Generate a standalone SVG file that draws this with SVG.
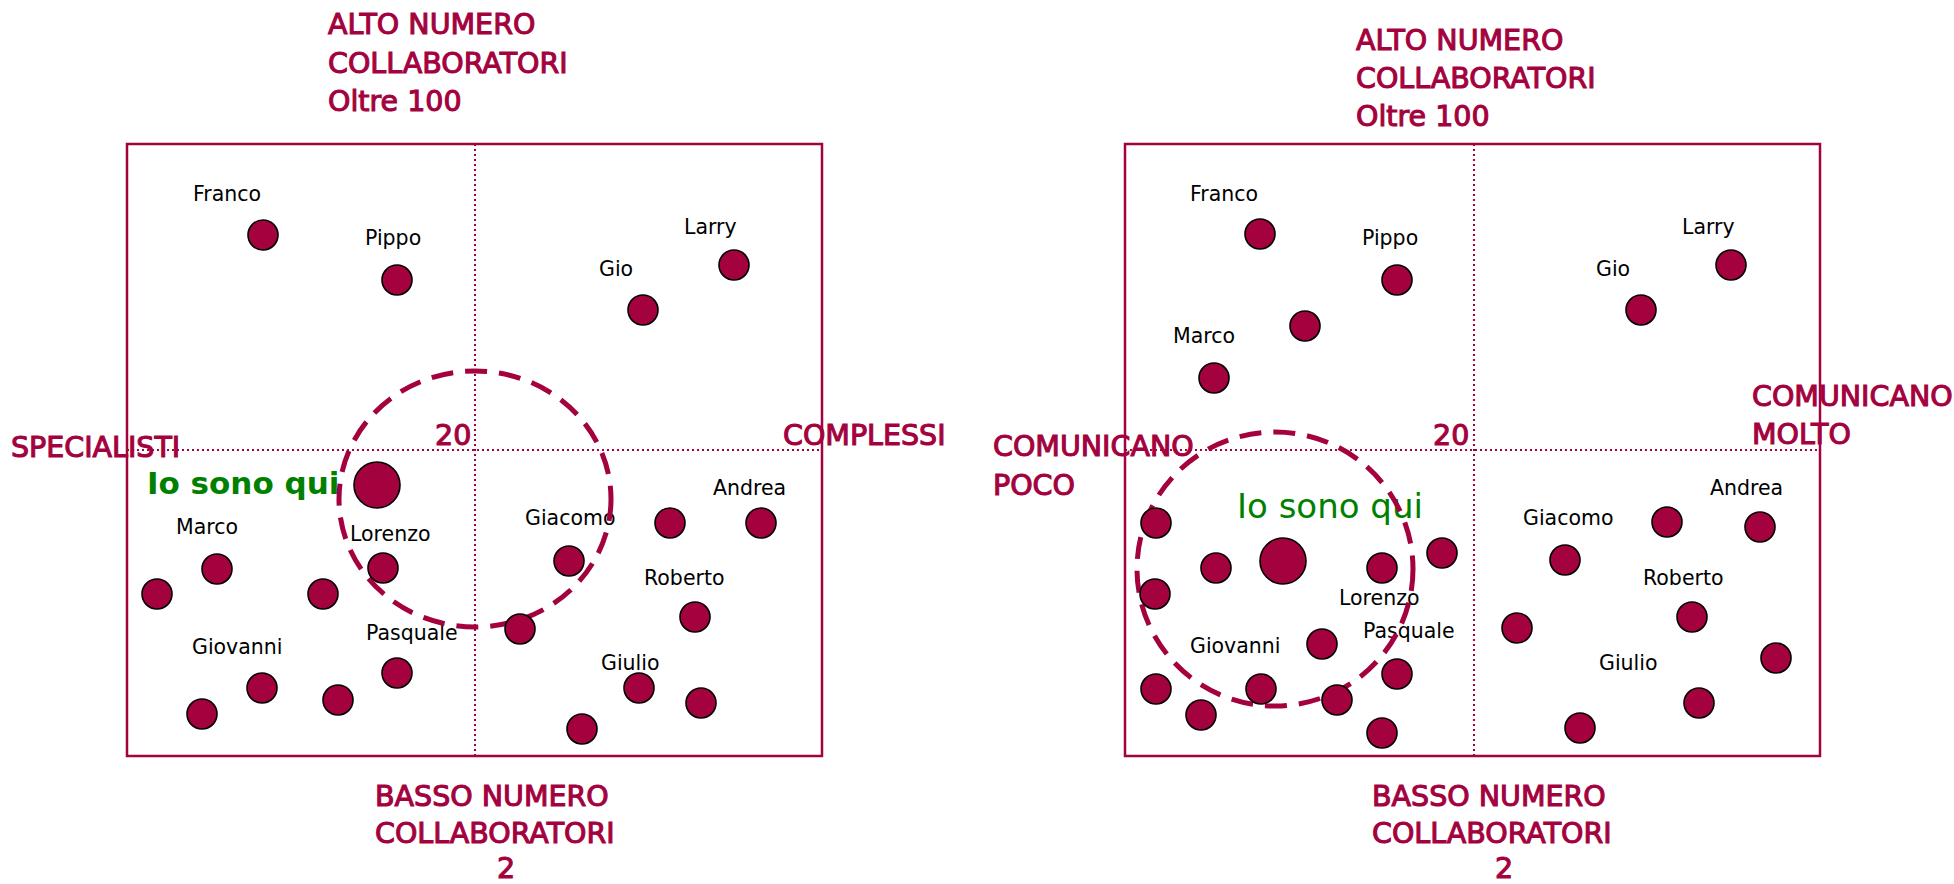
<svg xmlns="http://www.w3.org/2000/svg" width="1954" height="884" viewBox="0 0 1954 884">
  <style>
    .frame { fill: none; stroke: #A3023E; stroke-width: 2.5; }
    .axis { fill: none; stroke: #A3023E; stroke-width: 2; stroke-dasharray: 2 3; }
    .ring { fill: none; stroke: #A3023E; stroke-width: 5; stroke-dasharray: 22 12; }
    .dot { fill: #A3023E; stroke: #000; stroke-width: 1.6; }
    .name { font-family: "DejaVu Sans", "Liberation Sans", sans-serif; font-size: 20.5px; fill: #000; }
    .title { font-family: "DejaVu Sans", "Liberation Sans", sans-serif; font-size: 28.5px; fill: #A3023E; stroke: #A3023E; stroke-width: 1.1; }
    .here { font-family: "DejaVu Sans", sans-serif; fill: #008000; }
  </style>
  <rect width="1954" height="884" fill="#fff"/>

  <!-- ===== Left chart: numero collaboratori vs specialisti/complessi ===== -->
  <g id="left-chart">
    <g id="left-axes">
      <rect class="frame" x="127" y="144" width="695" height="612"/>
      <line class="axis" x1="475" y1="144" x2="475" y2="756"/>
      <line class="axis" x1="127" y1="450" x2="822" y2="450"/>
    </g>
    <g id="left-labels">
      <text class="title" x="328" y="34">ALTO NUMERO</text>
      <text class="title" x="328" y="73">COLLABORATORI</text>
      <text class="title" x="328" y="111">Oltre 100</text>
      <text class="title" x="375" y="806">BASSO NUMERO</text>
      <text class="title" x="375" y="843">COLLABORATORI</text>
      <text class="title" x="497" y="878">2</text>
      <text class="title" x="11" y="457">SPECIALISTI</text>
      <text class="title" x="783" y="445">COMPLESSI</text>
      <text class="title" x="435" y="445">20</text>
    </g>
    <g id="left-names">
      <text class="name" x="193" y="201">Franco</text>
      <text class="name" x="365" y="245">Pippo</text>
      <text class="name" x="684" y="234">Larry</text>
      <text class="name" x="599" y="276">Gio</text>
      <text class="name" x="176" y="534">Marco</text>
      <text class="name" x="350" y="541">Lorenzo</text>
      <text class="name" x="525" y="525">Giacomo</text>
      <text class="name" x="713" y="495">Andrea</text>
      <text class="name" x="644" y="585">Roberto</text>
      <text class="name" x="192" y="654">Giovanni</text>
      <text class="name" x="366" y="640">Pasquale</text>
      <text class="name" x="601" y="670">Giulio</text>
      <text class="here" x="147" y="494" font-size="31" font-weight="bold">Io sono qui</text>
    </g>
    <ellipse id="left-ring" class="ring" cx="475" cy="499" rx="136" ry="128"/>
    <g id="left-people">
      <g id="l-franco"><circle class="dot" cx="263" cy="235" r="15"/></g>
      <g id="l-pippo"><circle class="dot" cx="397" cy="280" r="15"/></g>
      <g id="l-gio"><circle class="dot" cx="643" cy="310" r="15"/></g>
      <g id="l-larry"><circle class="dot" cx="734" cy="265" r="15"/></g>
      <g id="l-me"><circle class="dot" cx="377" cy="485" r="23"/></g>
      <g id="l-marco"><circle class="dot" cx="217" cy="569" r="15"/></g>
      <g id="l-p1"><circle class="dot" cx="157" cy="594" r="15"/></g>
      <g id="l-p2"><circle class="dot" cx="323" cy="594" r="15"/></g>
      <g id="l-lorenzo"><circle class="dot" cx="383" cy="568" r="15"/></g>
      <g id="l-giacomo"><circle class="dot" cx="569" cy="561" r="15"/></g>
      <g id="l-p3"><circle class="dot" cx="520" cy="629" r="15"/></g>
      <g id="l-andrea1"><circle class="dot" cx="670" cy="523" r="15"/></g>
      <g id="l-andrea2"><circle class="dot" cx="761" cy="523" r="15"/></g>
      <g id="l-roberto"><circle class="dot" cx="695" cy="617" r="15"/></g>
      <g id="l-giovanni"><circle class="dot" cx="262" cy="688" r="15"/></g>
      <g id="l-p4"><circle class="dot" cx="338" cy="700" r="15"/></g>
      <g id="l-p5"><circle class="dot" cx="202" cy="714" r="15"/></g>
      <g id="l-pasquale"><circle class="dot" cx="397" cy="673" r="15"/></g>
      <g id="l-giulio"><circle class="dot" cx="639" cy="688" r="15"/></g>
      <g id="l-p6"><circle class="dot" cx="701" cy="703" r="15"/></g>
      <g id="l-p7"><circle class="dot" cx="582" cy="729" r="15"/></g>
    </g>
  </g>

  <!-- ===== Right chart: numero collaboratori vs comunicazione ===== -->
  <g id="right-chart">
    <g id="right-axes">
      <rect class="frame" x="1125" y="144" width="695" height="612"/>
      <line class="axis" x1="1474" y1="144" x2="1474" y2="756"/>
      <line class="axis" x1="1125" y1="450" x2="1820" y2="450"/>
    </g>
    <g id="right-labels">
      <text class="title" x="1356" y="50">ALTO NUMERO</text>
      <text class="title" x="1356" y="88">COLLABORATORI</text>
      <text class="title" x="1356" y="126">Oltre 100</text>
      <text class="title" x="1372" y="806">BASSO NUMERO</text>
      <text class="title" x="1372" y="843">COLLABORATORI</text>
      <text class="title" x="1495" y="878">2</text>
      <text class="title" x="993" y="456">COMUNICANO</text>
      <text class="title" x="993" y="495">POCO</text>
      <text class="title" x="1752" y="406">COMUNICANO</text>
      <text class="title" x="1752" y="444">MOLTO</text>
      <text class="title" x="1433" y="445">20</text>
    </g>
    <g id="right-names">
      <text class="name" x="1190" y="201">Franco</text>
      <text class="name" x="1362" y="245">Pippo</text>
      <text class="name" x="1173" y="343">Marco</text>
      <text class="name" x="1682" y="234">Larry</text>
      <text class="name" x="1596" y="276">Gio</text>
      <text class="name" x="1339" y="605">Lorenzo</text>
      <text class="name" x="1363" y="638">Pasquale</text>
      <text class="name" x="1190" y="653">Giovanni</text>
      <text class="name" x="1523" y="525">Giacomo</text>
      <text class="name" x="1710" y="495">Andrea</text>
      <text class="name" x="1643" y="585">Roberto</text>
      <text class="name" x="1599" y="670">Giulio</text>
      <text class="here" x="1237" y="518" font-size="34">Io sono qui</text>
    </g>
    <ellipse id="right-ring" class="ring" cx="1275" cy="569" rx="138" ry="137"/>
    <g id="right-people">
      <g id="r-franco"><circle class="dot" cx="1260" cy="234" r="15"/></g>
      <g id="r-pippo"><circle class="dot" cx="1397" cy="280" r="15"/></g>
      <g id="r-p1"><circle class="dot" cx="1305" cy="326" r="15"/></g>
      <g id="r-marco"><circle class="dot" cx="1214" cy="378" r="15"/></g>
      <g id="r-gio"><circle class="dot" cx="1641" cy="310" r="15"/></g>
      <g id="r-larry"><circle class="dot" cx="1731" cy="265" r="15"/></g>
      <g id="r-p2"><circle class="dot" cx="1156" cy="523" r="15"/></g>
      <g id="r-p3"><circle class="dot" cx="1216" cy="568" r="15"/></g>
      <g id="r-me"><circle class="dot" cx="1283" cy="561" r="23"/></g>
      <g id="r-p4"><circle class="dot" cx="1155" cy="594" r="15"/></g>
      <g id="r-lorenzo"><circle class="dot" cx="1382" cy="568" r="15"/></g>
      <g id="r-p5"><circle class="dot" cx="1442" cy="553" r="15"/></g>
      <g id="r-giovanni"><circle class="dot" cx="1322" cy="644" r="15"/></g>
      <g id="r-p6"><circle class="dot" cx="1156" cy="689" r="15"/></g>
      <g id="r-p7"><circle class="dot" cx="1201" cy="715" r="15"/></g>
      <g id="r-p8"><circle class="dot" cx="1261" cy="689" r="15"/></g>
      <g id="r-p9"><circle class="dot" cx="1337" cy="700" r="15"/></g>
      <g id="r-pasquale"><circle class="dot" cx="1397" cy="674" r="15"/></g>
      <g id="r-p10"><circle class="dot" cx="1382" cy="733" r="15"/></g>
      <g id="r-andrea1"><circle class="dot" cx="1667" cy="522" r="15"/></g>
      <g id="r-andrea2"><circle class="dot" cx="1760" cy="527" r="15"/></g>
      <g id="r-giacomo"><circle class="dot" cx="1565" cy="560" r="15"/></g>
      <g id="r-roberto"><circle class="dot" cx="1692" cy="617" r="15"/></g>
      <g id="r-p11"><circle class="dot" cx="1517" cy="628" r="15"/></g>
      <g id="r-p12"><circle class="dot" cx="1776" cy="658" r="15"/></g>
      <g id="r-giulio"><circle class="dot" cx="1699" cy="703" r="15"/></g>
      <g id="r-p13"><circle class="dot" cx="1580" cy="728" r="15"/></g>
    </g>
  </g>
</svg>
